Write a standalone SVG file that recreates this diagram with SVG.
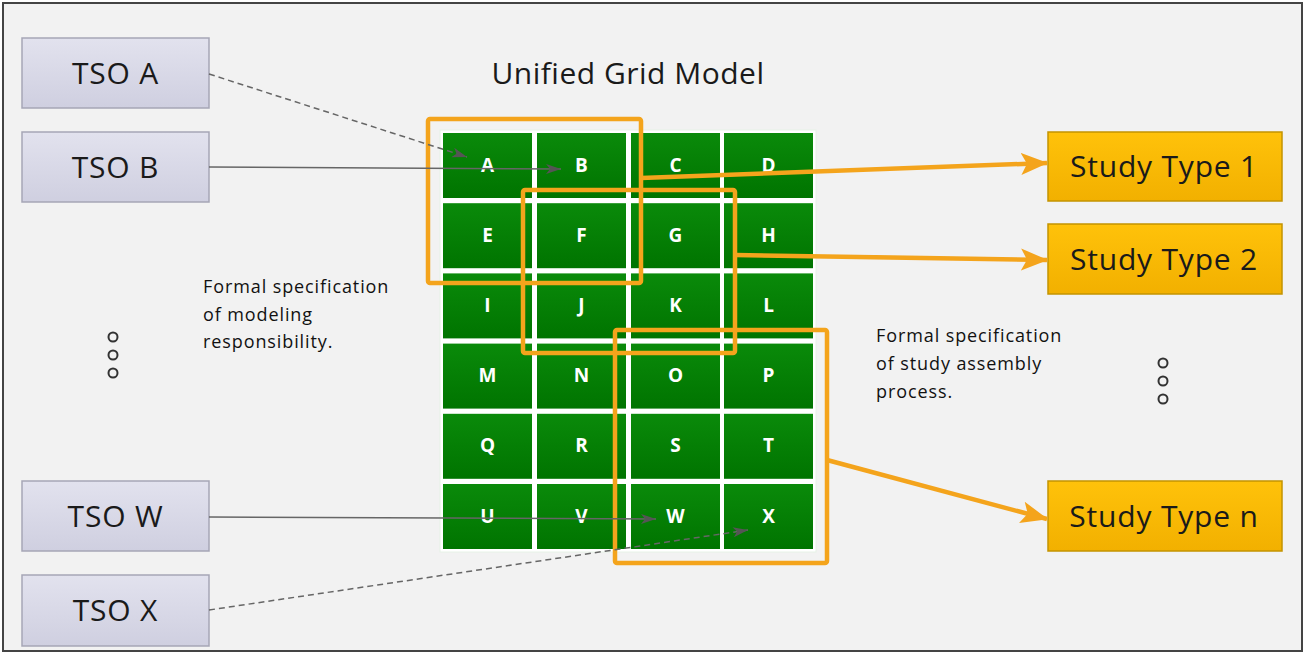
<svg xmlns="http://www.w3.org/2000/svg" width="1306" height="655" viewBox="0 0 1306 655">
<defs>
<linearGradient id="gTso" x1="0" y1="0" x2="0" y2="1"><stop offset="0" stop-color="#e2e2ee"/><stop offset="1" stop-color="#cfcfe0"/></linearGradient>
<linearGradient id="gStudy" x1="0" y1="0" x2="0" y2="1"><stop offset="0" stop-color="#ffc20a"/><stop offset="1" stop-color="#f2b000"/></linearGradient>
<linearGradient id="gCell" x1="0" y1="0" x2="0" y2="1"><stop offset="0" stop-color="#0a8a0a"/><stop offset="1" stop-color="#007400"/></linearGradient>
<marker id="mOr" markerUnits="userSpaceOnUse" markerWidth="28" markerHeight="24" viewBox="0 0 28 24" refX="26" refY="12" orient="auto"><path d="M0,1 L27,12 L0,23 L6,12 Z" fill="#f4a41c"/></marker>
<marker id="mGr" markerUnits="userSpaceOnUse" markerWidth="16" markerHeight="12" viewBox="0 0 16 12" refX="15" refY="6" orient="auto"><path d="M0,1 L15,6 L0,11 L4,6 Z" fill="#555"/></marker>
</defs>
<style>
.tso{fill:url(#gTso);stroke:#a6a6b6;stroke-width:1.5}
.study{fill:url(#gStudy);stroke:#c49400;stroke-width:1.5}
.cell{fill:url(#gCell)}
.lbl{font-family:"Open Sans","Noto Sans",sans-serif;font-size:30px;fill:#1a1a1a;text-anchor:middle;letter-spacing:0.8px}
.cl{font-family:"Open Sans","Noto Sans",sans-serif;font-size:19px;font-weight:bold;fill:#ffffff;text-anchor:middle}
.note{font-family:"Open Sans","Noto Sans",sans-serif;font-size:18px;fill:#111;letter-spacing:0.9px}
.hl{fill:none;stroke:#f4a41c;stroke-width:4.5}
.oarr{fill:none;stroke:#f4a41c;stroke-width:4.5;marker-end:url(#mOr)}
.garr{fill:none;stroke:#666;stroke-width:1.5;marker-end:url(#mGr)}
.dash{stroke-dasharray:6 4}
.dot{fill:none;stroke:#333;stroke-width:2}
</style>
<rect x="3" y="3" width="1299" height="648" fill="#f2f2f2" stroke="#444" stroke-width="2"/>
<text x="628" y="84" class="lbl" style="letter-spacing:0.5px">Unified Grid Model</text>

<g id="grid">
<rect x="440" y="130" width="376" height="422" fill="#ffffff" stroke="#e6f2e6" stroke-width="1"/>
<g id="cells">
<rect class="cell" x="443" y="133" width="89" height="65"/><text class="cl" x="487.5" y="172">A</text>
<rect class="cell" x="537" y="133" width="89" height="65"/><text class="cl" x="581.5" y="172">B</text>
<rect class="cell" x="631" y="133" width="89" height="65"/><text class="cl" x="675.5" y="172">C</text>
<rect class="cell" x="724" y="133" width="89" height="65"/><text class="cl" x="768.5" y="172">D</text>
<rect class="cell" x="443" y="203.2" width="89" height="65"/><text class="cl" x="487.5" y="242">E</text>
<rect class="cell" x="537" y="203.2" width="89" height="65"/><text class="cl" x="581.5" y="242">F</text>
<rect class="cell" x="631" y="203.2" width="89" height="65"/><text class="cl" x="675.5" y="242">G</text>
<rect class="cell" x="724" y="203.2" width="89" height="65"/><text class="cl" x="768.5" y="242">H</text>
<rect class="cell" x="443" y="273.4" width="89" height="65"/><text class="cl" x="487.5" y="312">I</text>
<rect class="cell" x="537" y="273.4" width="89" height="65"/><text class="cl" x="581.5" y="312">J</text>
<rect class="cell" x="631" y="273.4" width="89" height="65"/><text class="cl" x="675.5" y="312">K</text>
<rect class="cell" x="724" y="273.4" width="89" height="65"/><text class="cl" x="768.5" y="312">L</text>
<rect class="cell" x="443" y="343.6" width="89" height="65"/><text class="cl" x="487.5" y="382">M</text>
<rect class="cell" x="537" y="343.6" width="89" height="65"/><text class="cl" x="581.5" y="382">N</text>
<rect class="cell" x="631" y="343.6" width="89" height="65"/><text class="cl" x="675.5" y="382">O</text>
<rect class="cell" x="724" y="343.6" width="89" height="65"/><text class="cl" x="768.5" y="382">P</text>
<rect class="cell" x="443" y="413.8" width="89" height="65"/><text class="cl" x="487.5" y="452">Q</text>
<rect class="cell" x="537" y="413.8" width="89" height="65"/><text class="cl" x="581.5" y="452">R</text>
<rect class="cell" x="631" y="413.8" width="89" height="65"/><text class="cl" x="675.5" y="452">S</text>
<rect class="cell" x="724" y="413.8" width="89" height="65"/><text class="cl" x="768.5" y="452">T</text>
<rect class="cell" x="443" y="484" width="89" height="65"/><text class="cl" x="487.5" y="523">U</text>
<rect class="cell" x="537" y="484" width="89" height="65"/><text class="cl" x="581.5" y="523">V</text>
<rect class="cell" x="631" y="484" width="89" height="65"/><text class="cl" x="675.5" y="523">W</text>
<rect class="cell" x="724" y="484" width="89" height="65"/><text class="cl" x="768.5" y="523">X</text>
</g>
</g>

<g id="highlights">
<rect class="hl" x="428" y="119" width="213" height="164" rx="2"/>
<rect class="hl" x="523" y="190" width="212" height="163" rx="2"/>
<rect class="hl" x="615" y="330" width="212" height="233" rx="2"/>
</g>

<g id="tso-a"><rect class="tso" x="22" y="38" width="187" height="70"/><text class="lbl" x="115.5" y="84">TSO A</text></g>
<g id="tso-b"><rect class="tso" x="22" y="132" width="187" height="70"/><text class="lbl" x="115.5" y="178">TSO B</text></g>
<g id="tso-w"><rect class="tso" x="22" y="481" width="187" height="70"/><text class="lbl" x="115.5" y="527">TSO W</text></g>
<g id="tso-x"><rect class="tso" x="22" y="575" width="187" height="71"/><text class="lbl" x="115.5" y="621">TSO X</text></g>

<g id="study-1"><rect class="study" x="1048" y="132" width="234" height="69"/><text class="lbl" x="1164" y="177">Study Type 1</text></g>
<g id="study-2"><rect class="study" x="1048" y="224" width="234" height="70"/><text class="lbl" x="1164" y="270">Study Type 2</text></g>
<g id="study-n"><rect class="study" x="1048" y="481" width="234" height="70"/><text class="lbl" x="1164" y="527">Study Type n</text></g>

<g id="notes">
<text class="note" x="203" y="293">Formal specification</text>
<text class="note" x="203" y="321">of modeling</text>
<text class="note" x="203" y="348">responsibility.</text>
<text class="note" x="876" y="342">Formal specification</text>
<text class="note" x="876" y="370">of study assembly</text>
<text class="note" x="876" y="398">process.</text>
<circle class="dot" cx="113" cy="337" r="4.5"/><circle class="dot" cx="113" cy="355" r="4.5"/><circle class="dot" cx="113" cy="373" r="4.5"/>
<circle class="dot" cx="1163" cy="363" r="4.5"/><circle class="dot" cx="1163" cy="381" r="4.5"/><circle class="dot" cx="1163" cy="399" r="4.5"/>
</g>

<g id="connectors">
<line class="garr dash" x1="209" y1="74" x2="467" y2="157"/>
<line class="garr" x1="209" y1="167" x2="561" y2="169"/>
<line class="garr" x1="209" y1="517" x2="656" y2="519"/>
<line class="garr dash" x1="209" y1="610" x2="748" y2="530"/>
<line class="oarr" x1="641" y1="178" x2="1047" y2="163"/>
<line class="oarr" x1="735" y1="255" x2="1047" y2="260"/>
<line class="oarr" x1="827" y1="460" x2="1047" y2="519"/>
</g>
</svg>
